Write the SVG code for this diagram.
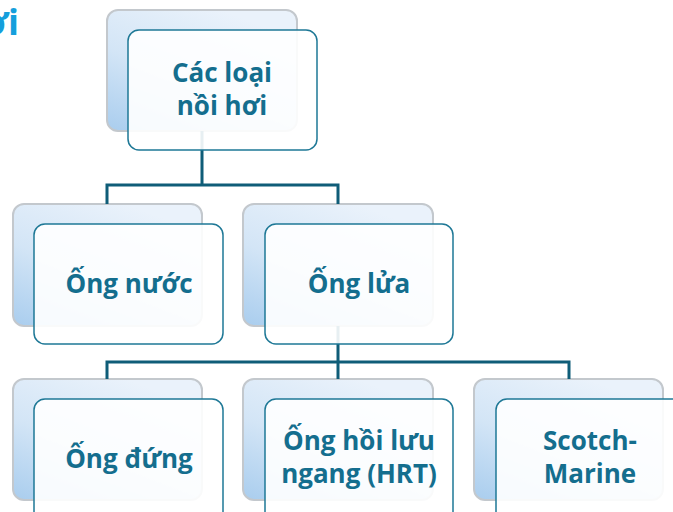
<svg xmlns="http://www.w3.org/2000/svg" width="673" height="512" viewBox="0 0 673 512">
<defs>
<linearGradient id="bg" x1="0" y1="1" x2="0.6" y2="0">
<stop offset="0" stop-color="#a9cdee"/>
<stop offset="0.5" stop-color="#d3e5f6"/>
<stop offset="1" stop-color="#eaf2fb"/>
</linearGradient>
<style>
.back{fill:url(#bg);stroke:#c3c8cd;stroke-width:2}
.front{fill:#ffffff;fill-opacity:0.9;stroke:#1e7896;stroke-width:1.5}
.conn{fill:none;stroke:#0f5d78;stroke-width:3;stroke-linejoin:miter}
.lbl{font-family:"Open Sans","Noto Sans","Liberation Sans",sans-serif;font-weight:bold;font-size:26px;fill:#146e8e;text-anchor:middle}
</style>
</defs>
<rect width="673" height="512" fill="#ffffff"/>
<text x="19" y="35" style="font-family:'Open Sans','Noto Sans',sans-serif;font-weight:bold;font-size:36px;fill:#159fdc;text-anchor:end">ơi</text>

<g id="backs">
<rect class="back" x="107" y="10" width="190" height="121" rx="11"/>
<rect class="back" x="13" y="204" width="189" height="122" rx="11"/>
<rect class="back" x="243" y="204" width="190" height="122" rx="11"/>
<rect class="back" x="13" y="379" width="189" height="121" rx="11"/>
<rect class="back" x="243" y="379" width="190" height="121" rx="11"/>
<rect class="back" x="474" y="379" width="189" height="121" rx="11"/>
</g>

<g id="connectors">
<path class="conn" d="M202,131 V185 M107,204 V185 H338 V204"/>
<path class="conn" d="M338,326 V362 M107,379 V362 H569 V379 M338,362 V379"/>
</g>

<g id="n-root">
<rect class="front" x="128" y="30" width="189" height="120" rx="11"/>
<text class="lbl" x="222" y="82">Các loại</text>
<text class="lbl" x="222" y="115">nồi hơi</text>
</g>
<g id="n-ongnuoc">
<rect class="front" x="34" y="224" width="189" height="120" rx="11"/>
<text class="lbl" x="129" y="293">Ống nước</text>
</g>
<g id="n-onglua">
<rect class="front" x="265" y="224" width="188" height="120" rx="11"/>
<text class="lbl" x="359" y="293">Ống lửa</text>
</g>
<g id="n-ongdung">
<rect class="front" x="34" y="399" width="189" height="125" rx="11"/>
<text class="lbl" x="129" y="468">Ống đứng</text>
</g>
<g id="n-hrt">
<rect class="front" x="265" y="399" width="188" height="125" rx="11"/>
<text class="lbl" x="359" y="450">Ống hồi lưu</text>
<text class="lbl" x="359" y="483">ngang (HRT)</text>
</g>
<g id="n-scotch">
<rect class="front" x="496" y="399" width="189" height="125" rx="11"/>
<text class="lbl" x="590" y="450">Scotch-</text>
<text class="lbl" x="590" y="483">Marine</text>
</g>
</svg>
